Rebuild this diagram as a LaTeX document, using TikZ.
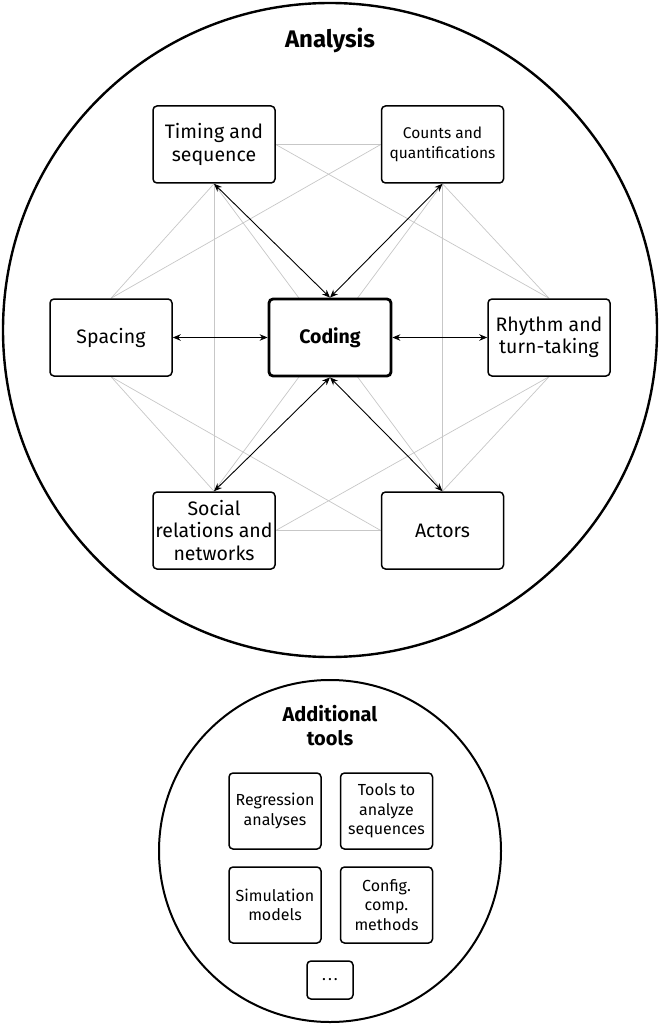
\documentclass[tikz,border=0pt]{standalone}
\usepackage{fontspec}
\setmainfont{Fira Sans}
\usetikzlibrary{arrows.meta,backgrounds}
\begin{document}
\begin{tikzpicture}[x=1pt,y=-1pt,
  box/.style={draw,line width=1.5pt,rounded corners=4pt,fill=white,
    minimum width=122pt,minimum height=77pt,align=center,inner sep=2pt,
    font=\fontsize{19.5}{22.5}\selectfont},
  smallbox/.style={draw,line width=1.5pt,rounded corners=4pt,fill=white,
    minimum width=92pt,minimum height=76pt,align=center,inner sep=2pt,
    font=\fontsize{16}{19.5}\selectfont},
  codingbox/.style={box,line width=2.8pt,font=\fontsize{19.5}{22.5}\selectfont\bfseries},
  link/.style={draw=black!22,line width=0.7pt},
  twoway/.style={{Stealth[length=8pt,width=6.5pt]}-{Stealth[length=8pt,width=6.5pt]},line width=0.9pt},
  ring/.style={draw,line width=2.4pt},
  title/.style={font=\fontsize{24}{28}\selectfont\bfseries,align=center}
]
\useasboundingbox (0,0) rectangle (661,1024);
% circles
\draw[ring] (330,330) circle[radius=327];
\draw[ring,line width=2pt] (330,851) circle[radius=171];
\node[title,anchor=base] (analysis) at (330,48) {Analysis};
\node[title,font=\fontsize{20}{24}\selectfont\bfseries] (addtools) at (330,726) {Additional\\tools};
% main nodes
\node[box] (timing) at (214,144.5) {Timing and\\sequence};
\node[box,font=\fontsize{15.5}{20}\selectfont] (counts) at (442.5,144.5) {Counts and\\quantifications};
\node[box] (spacing) at (111,337.5) {Spacing};
\node[codingbox] (coding) at (330,337.5) {Coding};
\node[box] (rhythm) at (549,337.5) {Rhythm and\\turn-taking};
\node[box] (social) at (214,530.5) {Social\\relations and\\networks};
\node[box] (actors) at (442.5,530.5) {Actors};
% grey links behind
\begin{pgfonlayer}{background}
\draw[link] (timing.east) -- (counts.west);
\draw[link] (timing.east) -- (rhythm.north);
\draw[link] (counts.west) -- (spacing.north);
\draw[link] (timing.south) -- (spacing.north);
\draw[link] (timing.south) -- (social.north);
\draw[link] (timing.south) -- (actors.north);
\draw[link] (counts.south) -- (rhythm.north);
\draw[link] (counts.south) -- (actors.north);
\draw[link] (counts.south) -- (social.north);
\draw[link] (spacing.south) -- (social.north);
\draw[link] (spacing.south) -- (actors.west);
\draw[link] (rhythm.south) -- (social.east);
\draw[link] (rhythm.south) -- (actors.north);
\draw[link] (social.east) -- (actors.west);
\end{pgfonlayer}
% black arrows
\draw[twoway] (coding.north) -- (timing.south);
\draw[twoway] (coding.north) -- (counts.south);
\draw[twoway] (coding.west) -- (spacing.east);
\draw[twoway] (coding.east) -- (rhythm.west);
\draw[twoway] (coding.south) -- (social.north);
\draw[twoway] (coding.south) -- (actors.north);
% additional tools
\node[smallbox] (regression) at (275,811) {Regression\\analyses};
\node[smallbox] (sequences) at (386.5,811) {Tools to\\analyze\\sequences};
\node[smallbox] (simulation) at (275,905) {Simulation\\models};
\node[smallbox] (config) at (386.5,905) {Config.\\comp.\\methods};
\node[smallbox,minimum width=46pt,minimum height=38pt] (more) at (330,980) {.\kern2pt.\kern2pt.};
\end{tikzpicture}
\end{document}
